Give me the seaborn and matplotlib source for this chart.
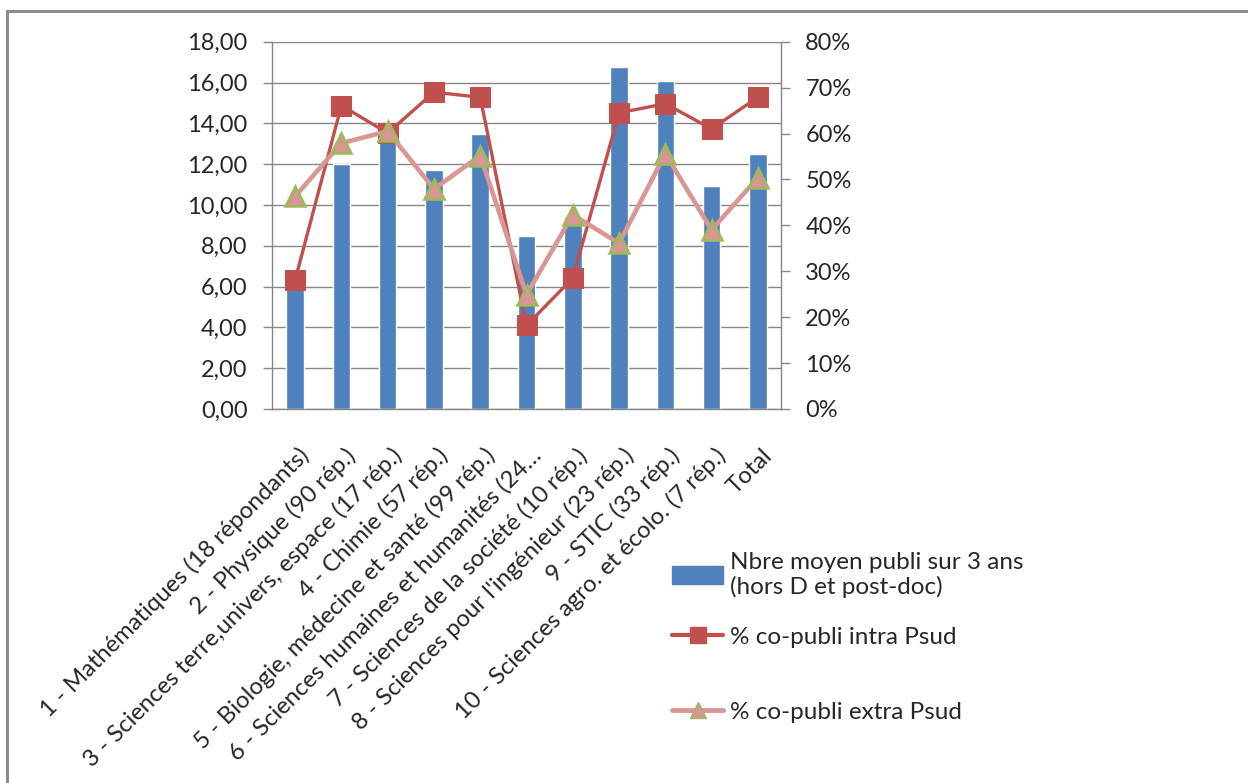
import numpy as np
import matplotlib
matplotlib.use('Agg')
import matplotlib.pyplot as plt
import matplotlib.transforms as mtransforms
from matplotlib.patches import Patch, Rectangle
from matplotlib.lines import Line2D
from matplotlib.ticker import FixedLocator, FuncFormatter
import seaborn as sns

categories = [
    "1 - Mathématiques (18 répondants)",
    "2 - Physique (90 rép.)",
    "3 - Sciences terre,univers, espace (17 rép.)",
    "4 - Chimie (57 rép.)",
    "5 - Biologie, médecine et santé (99 rép.)",
    "6 - Sciences humaines et humanités (24…",
    "7 - Sciences de la société (10 rép.)",
    "8 - Sciences pour l'ingénieur (23 rép.)",
    "9 - STIC (33 rép.)",
    "10 - Sciences agro. et écolo. (7 rép.)",
    "Total",
]
nb_publi = [6.1, 12.0, 13.2, 11.7, 13.5, 8.5, 9.4, 16.75, 16.05, 10.95, 12.5]
pct_intra = [28.1, 66.1, 60.1, 69.0, 67.9, 18.2, 28.5, 64.5, 66.5, 61.0, 67.9]
pct_extra = [46.3, 57.9, 60.5, 47.9, 55.2, 24.9, 42.3, 36.1, 55.6, 39.0, 50.4]

label_bar = "Nbre moyen publi sur 3 ans\n(hors D et post-doc)"
label_intra = "% co-publi intra Psud"
label_extra = "% co-publi extra Psud"

blue = '#4F81BD'
red = '#C0504D'
pink = '#D99694'
green = '#9BBB59'
grey = '#868686'

sns.set_style('white')
plt.rcParams['font.family'] = ['Lato', 'DejaVu Sans']

fig = plt.figure(figsize=(12.48, 7.83), dpi=100)
ax = fig.add_axes([272 / 1248, 1 - 409 / 783, 509 / 1248, 367.3 / 783])

sns.barplot(x=categories, y=nb_publi, ax=ax, color=blue, saturation=1, width=0.38, zorder=2)
ax.set_xlim(-0.5, len(categories) - 0.5)
ax.set_ylim(0, 18)
ax.set_yticks(np.arange(0, 19, 2))
ax.yaxis.set_major_formatter(FuncFormatter(lambda v, p: f"{v:.2f}".replace('.', ',')))
ax.yaxis.grid(True, color=grey, linewidth=1)
ax.set_axisbelow(True)
ax.set_xlabel('')
ax.set_ylabel('')
for s in ['top', 'right']:
    ax.spines[s].set_visible(False)
for s in ['left', 'bottom']:
    ax.spines[s].set_color(grey)
    ax.spines[s].set_linewidth(1)

ax.xaxis.set_minor_locator(FixedLocator(np.arange(-0.5, len(categories), 1)))
ax.tick_params(axis='x', which='major', length=0, pad=31, labelsize=17.2)
ax.tick_params(axis='x', which='minor', length=6.5, width=1, color=grey)
ax.tick_params(axis='y', length=6.5, width=1, color=grey, pad=11, labelsize=17)
ax.set_xticks(range(len(categories)))
ax.set_xticklabels(categories, rotation=45, ha='right', va='center', rotation_mode='anchor')
offset = mtransforms.ScaledTranslation(0.11, 0, fig.dpi_scale_trans)
for lab in ax.get_xticklabels():
    lab.set_transform(lab.get_transform() + offset)

ax2 = ax.twinx()
x_pos = np.arange(len(categories))
sns.lineplot(x=x_pos, y=pct_intra, ax=ax2, color=red, linewidth=2.4, marker='s',
             markersize=14.5, markerfacecolor=red, markeredgecolor=red, zorder=3)
sns.lineplot(x=x_pos, y=pct_extra, ax=ax2, color=pink, linewidth=3.3, marker='^',
             markersize=15, markerfacecolor=pink, markeredgecolor=green,
             markeredgewidth=1.8, zorder=4)
ax2.set_xlim(-0.5, len(categories) - 0.5)
ax2.set_ylim(0, 80)
ax2.set_yticks(np.arange(0, 81, 10))
ax2.yaxis.set_major_formatter(FuncFormatter(lambda v, p: f"{v:.0f}%"))
ax2.tick_params(axis='y', length=6.5, width=1, color=grey, pad=11, labelsize=17)
ax2.grid(False)
for s in ['top', 'left', 'bottom']:
    ax2.spines[s].set_visible(False)
ax2.spines['right'].set_color(grey)
ax2.spines['right'].set_linewidth(1)

# legend, three separate blocks like the original
h_bar = Patch(facecolor=blue, edgecolor=blue)
h_intra = Line2D([], [], color=red, linewidth=3, marker='s', markersize=11,
                 markerfacecolor=red, markeredgecolor=red)
h_extra = Line2D([], [], color=pink, linewidth=3.5, marker='^', markersize=12,
                 markerfacecolor=pink, markeredgecolor=green)
legend_kw = dict(frameon=False, fontsize=17.5, handlelength=2.1, handletextpad=0.3,
                 loc='center left', borderaxespad=0, borderpad=0)
fig.legend([h_bar], [label_bar], bbox_to_anchor=(672 / 1248, 1 - 575 / 783), **legend_kw)
fig.legend([h_intra], [label_intra], bbox_to_anchor=(672 / 1248, 1 - 637 / 783), **legend_kw)
fig.legend([h_extra], [label_extra], bbox_to_anchor=(672 / 1248, 1 - 712 / 783), **legend_kw)

# outer chart frame (cut by the image edges on the right and bottom)
fig.patches.append(Rectangle((7 / 1248, -0.1), 1.2, 1.1 - 11 / 783,
                             transform=fig.transFigure, fill=False,
                             edgecolor='#8C8C8C', linewidth=2.2))

fig.savefig('out.png', dpi=100)
